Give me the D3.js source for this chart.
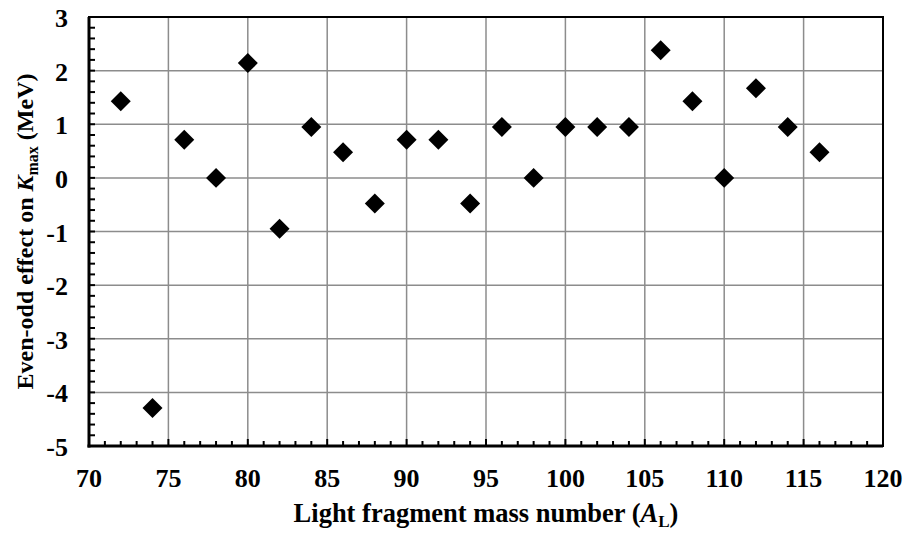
<!DOCTYPE html>
<html>
<head>
<meta charset="utf-8">
<script src="https://cdn.jsdelivr.net/npm/d3@7"></script>
<style>
  body { margin: 0; background: #fff; }
  text { font-family: "Liberation Serif", "Times New Roman", serif; font-weight: bold; fill: #000; }
</style>
</head>
<body>
<div id="chart"></div>
<script>
// mass numbers of the light fragment
let massNumbers = [72, 74, 76, 78, 80, 82, 84, 86, 88, 90, 92, 94, 96, 98, 100, 102, 104, 106, 108, 110, 112, 114, 116];
// even-odd effect on Kmax (MeV)
let evenOdd = [1.43, -4.29, 0.71, 0.0, 2.14, -0.95, 0.95, 0.48, -0.48, 0.71, 0.71, -0.48, 0.95, 0.0, 0.95, 0.95, 0.95, 2.38, 1.43, 0.0, 1.67, 0.95, 0.48];
let xTicks = [70, 75, 80, 85, 90, 95, 100, 105, 110, 115, 120];
let yTicks = [-5, -4, -3, -2, -1, 0, 1, 2, 3];

let width = 906, height = 534;
let margin = {top: 17, right: 23, bottom: 88, left: 89};

let svg = d3.select("#chart")
    .append("svg")
    .attr("width", width)
    .attr("height", height);

let x = d3.scaleLinear()
    .domain([70, 120])
    .range([margin.left, width - margin.right]);

let y = d3.scaleLinear()
    .domain([-5, 3])
    .range([height - margin.bottom, margin.top]);

//gridlines
svg.selectAll(".vgrid")
    .data(xTicks.slice(1, -1))
    .enter()
    .append("line")
    .attr("x1", d => x(d))
    .attr("x2", d => x(d))
    .attr("y1", y(3))
    .attr("y2", y(-5))
    .attr("stroke", "#8c8c8c")
    .attr("stroke-width", 1.5);

svg.selectAll(".hgrid")
    .data(yTicks.slice(1, -1))
    .enter()
    .append("line")
    .attr("x1", x(70))
    .attr("x2", x(120))
    .attr("y1", d => y(d))
    .attr("y2", d => y(d))
    .attr("stroke", "#8c8c8c")
    .attr("stroke-width", 1.5);

//minor ticks, pointing inward
let xMinor = d3.range(71, 120, 1);
svg.selectAll(".xminor")
    .data(xMinor)
    .enter()
    .append("line")
    .attr("x1", d => x(d))
    .attr("x2", d => x(d))
    .attr("y1", y(-5))
    .attr("y2", d => y(-5) - (d % 5 === 0 ? 7 : 5))
    .attr("stroke", "black")
    .attr("stroke-width", 2);

let yMinor = d3.range(-4.8, 3, 0.2);
svg.selectAll(".yminor")
    .data(yMinor)
    .enter()
    .append("line")
    .attr("x1", x(70))
    .attr("x2", x(70) + 6)
    .attr("y1", d => y(d))
    .attr("y2", d => y(d))
    .attr("stroke", "black")
    .attr("stroke-width", 2);

//frame
svg.append("rect")
    .attr("x", x(70))
    .attr("y", y(3))
    .attr("width", x(120) - x(70))
    .attr("height", y(-5) - y(3))
    .attr("fill", "none")
    .attr("stroke", "black")
    .attr("stroke-width", 2);

svg.append("line")
    .attr("x1", x(70)).attr("x2", x(70))
    .attr("y1", y(3)).attr("y2", y(-5) + 1.5)
    .attr("stroke", "black").attr("stroke-width", 3);
svg.append("line")
    .attr("x1", x(70) - 1.5).attr("x2", x(120))
    .attr("y1", y(-5)).attr("y2", y(-5))
    .attr("stroke", "black").attr("stroke-width", 3);

//tick labels
svg.selectAll(".xlabel")
    .data(xTicks)
    .enter()
    .append("text")
    .attr("x", d => x(d))
    .attr("y", y(-5) + 41)
    .attr("text-anchor", "middle")
    .attr("font-size", 26)
    .text(d => d);

svg.selectAll(".ylabel")
    .data(yTicks)
    .enter()
    .append("text")
    .attr("x", x(70) - 21)
    .attr("y", d => y(d) + 10)
    .attr("text-anchor", "end")
    .attr("font-size", 26)
    .text(d => d);

//axis titles
let xTitle = svg.append("text")
    .attr("x", (x(70) + x(120)) / 2)
    .attr("y", 522)
    .attr("text-anchor", "middle")
    .attr("font-size", 26.5);
xTitle.append("tspan").text("Light fragment mass number (");
xTitle.append("tspan").attr("font-style", "italic").text("A");
xTitle.append("tspan").attr("font-size", 17).attr("dy", 5).text("L");
xTitle.append("tspan").attr("dy", -5).text(")");

let yTitle = svg.append("text")
    .attr("transform", "translate(33," + ((y(3) + y(-5)) / 2) + ") rotate(-90)")
    .attr("text-anchor", "middle")
    .attr("font-size", 24);
yTitle.append("tspan").text("Even-odd effect on ");
yTitle.append("tspan").attr("font-style", "italic").text("K");
yTitle.append("tspan").attr("font-size", 16).attr("dy", 5).text("max");
yTitle.append("tspan").attr("dy", -5).text(" (MeV)");

//diamond markers
let diamond = d3.symbol().type(d3.symbolSquare).size(200);
svg.selectAll(".pt")
    .data(massNumbers)
    .enter()
    .append("path")
    .attr("d", diamond)
    .attr("transform", (d, i) => "translate(" + x(d) + "," + y(evenOdd[i]) + ") rotate(45)")
    .attr("fill", "black");
</script>
</body>
</html>
